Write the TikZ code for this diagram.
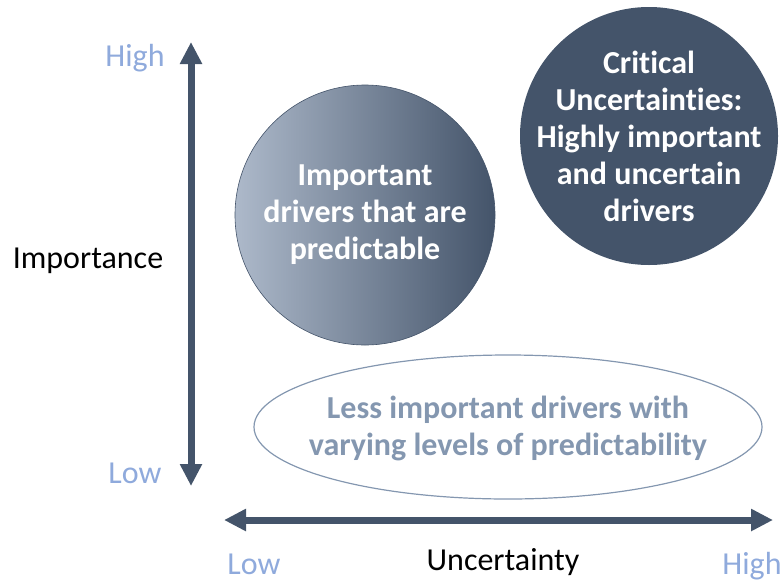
\documentclass[tikz,border=0pt]{standalone}
\usepackage{fontspec}
\setmainfont{Carlito}[Ligatures=NoCommon]
\usetikzlibrary{arrows.meta}
\definecolor{slatedark}{HTML}{44546A}
\definecolor{slatelight}{HTML}{ADB9CA}
\definecolor{slatemid}{HTML}{8497B0}
\definecolor{axislabel}{HTML}{8FAADC}

\begin{document}
\begin{tikzpicture}[x=1pt,y=-1pt,
    axis/.style={line width=7pt,slatedark,{Triangle[length=22pt,width=21pt]}-{Triangle[length=22pt,width=21pt]}},
    endlabel/.style={text=axislabel,font=\fontsize{32}{36}\selectfont,inner sep=0pt},
    axistitle/.style={font=\fontsize{32}{36}\selectfont,inner sep=0pt},
    bubble/.style={circle,minimum size=260pt,align=center,text=white,
      font=\fontsize{32}{37}\selectfont\bfseries,inner sep=0pt}]
      \useasboundingbox (0,0) rectangle (783,581);
      \coordinate (ytop) at (191,42);
      \coordinate (ybot) at (191,486);
      \coordinate (xleft) at (224,520);
      \coordinate (xright) at (773,520);
      \draw[axis] (ybot) -- (ytop);
      \draw[axis] (xleft) -- (xright);
      \node[endlabel,anchor=base] (yhigh) at (135,66) {High};
      \node[endlabel,anchor=base] (ylow) at (135,483) {Low};
      \node[axistitle,anchor=base] (ytitle) at (88,268) {Importance};
      \node[axistitle,anchor=base] (xtitle) at (503,570) {Uncertainty};
      \node[endlabel,anchor=base] (xlow) at (254,574) {Low};
      \node[endlabel,anchor=base] (xhigh) at (752,574) {High};
      \node[bubble,draw=slatedark,line width=0.6pt,left color=slatelight,right color=slatedark] (predictable) at (365,215)
        {Important\\drivers that are\\predictable};
      \node[bubble,fill=slatedark,minimum size=258pt,inner sep=-20pt] (critical) at (649,136)
        {Critical\\Uncertainties:\\Highly important\\and uncertain\\drivers};
      \draw[slatemid,line width=1.2pt] (508,427) ellipse [x radius=254,y radius=72];
      \node[text=slatemid,align=center,font=\fontsize{32}{37}\selectfont\bfseries] (lessimportant) at (508,428)
        {Less important drivers with\\varying levels of predictability};
\end{tikzpicture}
\end{document}
